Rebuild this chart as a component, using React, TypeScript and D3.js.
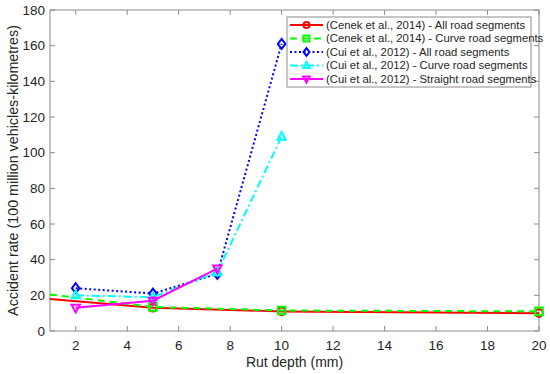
import React, { useRef, useEffect } from "react";
import * as d3 from "d3";

const xTicks = [2, 4, 6, 8, 10, 12, 14, 16, 18, 20];
const yTicks = [0, 20, 40, 60, 80, 100, 120, 140, 160, 180];

const cenekAllX = [1, 5, 10, 20];
const cenekAllY = [18, 13, 11, 10];
const cenekCurveX = [1, 5, 10, 20];
const cenekCurveY = [20.5, 13.5, 11.5, 11];
const cuiAllX = [2, 5, 7.5, 10];
const cuiAllY = [24, 21, 32, 161];
const cuiCurveX = [2, 5, 7.5, 10];
const cuiCurveY = [20, 19, 33, 109];
const cuiStraightX = [2, 5, 7.5];
const cuiStraightY = [13, 17, 35];

type Series = {
  name: string;
  xs: number[];
  ys: number[];
  color: string;
  dash: string;
  marker: string;
};

const series: Series[] = [
  { name: "(Cenek et al., 2014) - All road segments", xs: cenekAllX, ys: cenekAllY, color: "#ff0000", dash: "", marker: "circle" },
  { name: "(Cenek et al., 2014) - Curve road segments", xs: cenekCurveX, ys: cenekCurveY, color: "#00ff00", dash: "7,5", marker: "square" },
  { name: "(Cui et al., 2012) - All road segments", xs: cuiAllX, ys: cuiAllY, color: "#0000ff", dash: "2,2.5", marker: "diamond" },
  { name: "(Cui et al., 2012) - Curve road segments", xs: cuiCurveX, ys: cuiCurveY, color: "#00ffff", dash: "8,3,2,3", marker: "up" },
  { name: "(Cui et al., 2012) - Straight road segments", xs: cuiStraightX, ys: cuiStraightY, color: "#ff00ff", dash: "", marker: "down" },
];

function markerPath(kind: string, s: number) {
  switch (kind) {
    case "square":
      return `M${-s},${-s}H${s}V${s}H${-s}Z`;
    case "diamond":
      return `M0,${-s * 1.3}L${s},0L0,${s * 1.3}L${-s},0Z`;
    case "up":
      return `M0,${-s * 1.2}L${s * 1.1},${s * 0.8}L${-s * 1.1},${s * 0.8}Z`;
    case "down":
      return `M0,${s * 1.2}L${s * 1.1},${-s * 0.8}L${-s * 1.1},${-s * 0.8}Z`;
    default:
      return d3.arc()({ innerRadius: 0, outerRadius: s, startAngle: 0, endAngle: Math.PI * 2 }) as string;
  }
}

export default function App() {
  const svgRef = useRef<SVGSVGElement>(null);
  const width = 550;
  const height = 374;

  useEffect(() => {
    const svg = d3.select(svgRef.current);
    svg.selectAll("*").remove();

    const left = 50, right = 539, top = 10, bottom = 331;
    const x = d3.scaleLinear().domain([1, 20]).range([left, right]);
    const y = d3.scaleLinear().domain([0, 180]).range([bottom, top]);
    const axisColor = "#8c8c8c";
    const textColor = "#262626";
    const font = "Liberation Sans, Arial, sans-serif";

    svg.append("rect").attr("width", width).attr("height", height).attr("fill", "#fff");

    // box
    svg.append("rect")
      .attr("x", left).attr("y", top)
      .attr("width", right - left).attr("height", bottom - top)
      .attr("fill", "none").attr("stroke", axisColor).attr("stroke-width", 1);

    // ticks (inward, on all sides)
    const tl = 5;
    xTicks.forEach((t) => {
      svg.append("line").attr("x1", x(t)).attr("x2", x(t)).attr("y1", bottom).attr("y2", bottom - tl).attr("stroke", axisColor);
      svg.append("line").attr("x1", x(t)).attr("x2", x(t)).attr("y1", top).attr("y2", top + tl).attr("stroke", axisColor);
      svg.append("text").attr("x", x(t)).attr("y", bottom + 19)
        .attr("text-anchor", "middle").attr("font-family", font).attr("font-size", 13.5)
        .attr("fill", textColor).text(t);
    });
    yTicks.forEach((t) => {
      svg.append("line").attr("x1", left).attr("x2", left + tl).attr("y1", y(t)).attr("y2", y(t)).attr("stroke", axisColor);
      svg.append("line").attr("x1", right).attr("x2", right - tl).attr("y1", y(t)).attr("y2", y(t)).attr("stroke", axisColor);
      svg.append("text").attr("x", left - 5).attr("y", y(t)).attr("dy", "0.35em")
        .attr("text-anchor", "end").attr("font-family", font).attr("font-size", 13.5)
        .attr("fill", textColor).text(t);
    });

    // labels
    svg.append("text").attr("x", (left + right) / 2).attr("y", 367)
      .attr("text-anchor", "middle").attr("font-family", font).attr("font-size", 14)
      .attr("fill", textColor).text("Rut depth (mm)");
    svg.append("text")
      .attr("transform", `translate(18,${(top + bottom) / 2}) rotate(-90)`)
      .attr("text-anchor", "middle").attr("font-family", font).attr("font-size", 14.3)
      .attr("fill", textColor).text("Accident rate (100 million vehicles-kilometres)");

    const plot = svg.append("g");
    const line = d3.line<[number, number]>().x((d) => x(d[0])).y((d) => y(d[1]));

    series.forEach((s) => {
      const pts: [number, number][] = s.xs.map((v, i) => [v, s.ys[i]]);
      plot.append("path")
        .attr("d", line(pts))
        .attr("fill", "none")
        .attr("stroke", s.color)
        .attr("stroke-width", 2)
        .attr("stroke-dasharray", s.dash || null);
      // markers at the left axis edge are hidden in the original
      plot.selectAll(null)
        .data(pts.filter((d) => d[0] > x.domain()[0]))
        .enter()
        .append("path")
        .attr("transform", (d) => `translate(${x(d[0])},${y(d[1])})`)
        .attr("d", markerPath(s.marker, 3.8))
        .attr("fill", "none")
        .attr("stroke", s.color)
        .attr("stroke-width", 2);
    });

    // legend
    const lx = 287, ly = 17, lw = 244, lh = 70;
    const leg = svg.append("g");
    leg.append("rect").attr("x", lx).attr("y", ly).attr("width", lw).attr("height", lh)
      .attr("fill", "#fff").attr("stroke", axisColor).attr("stroke-width", 1);
    series.forEach((s, i) => {
      const cy = ly + 8 + i * 13.5;
      leg.append("line").attr("x1", lx + 3).attr("x2", lx + 36).attr("y1", cy).attr("y2", cy)
        .attr("stroke", s.color).attr("stroke-width", 2).attr("stroke-dasharray", s.dash || null);
      leg.append("path").attr("transform", `translate(${lx + 19.5},${cy})`)
        .attr("d", markerPath(s.marker, 3))
        .attr("fill", "none").attr("stroke", s.color).attr("stroke-width", 2);
      leg.append("text").attr("x", lx + 39).attr("y", cy).attr("dy", "0.35em")
        .attr("font-family", font).attr("font-size", 11.3).attr("fill", textColor).text(s.name);
    });
  }, []);

  return <svg ref={svgRef} width={width} height={height} style={{ display: "block", position: "absolute", left: 0, top: 0 }} />;
}
